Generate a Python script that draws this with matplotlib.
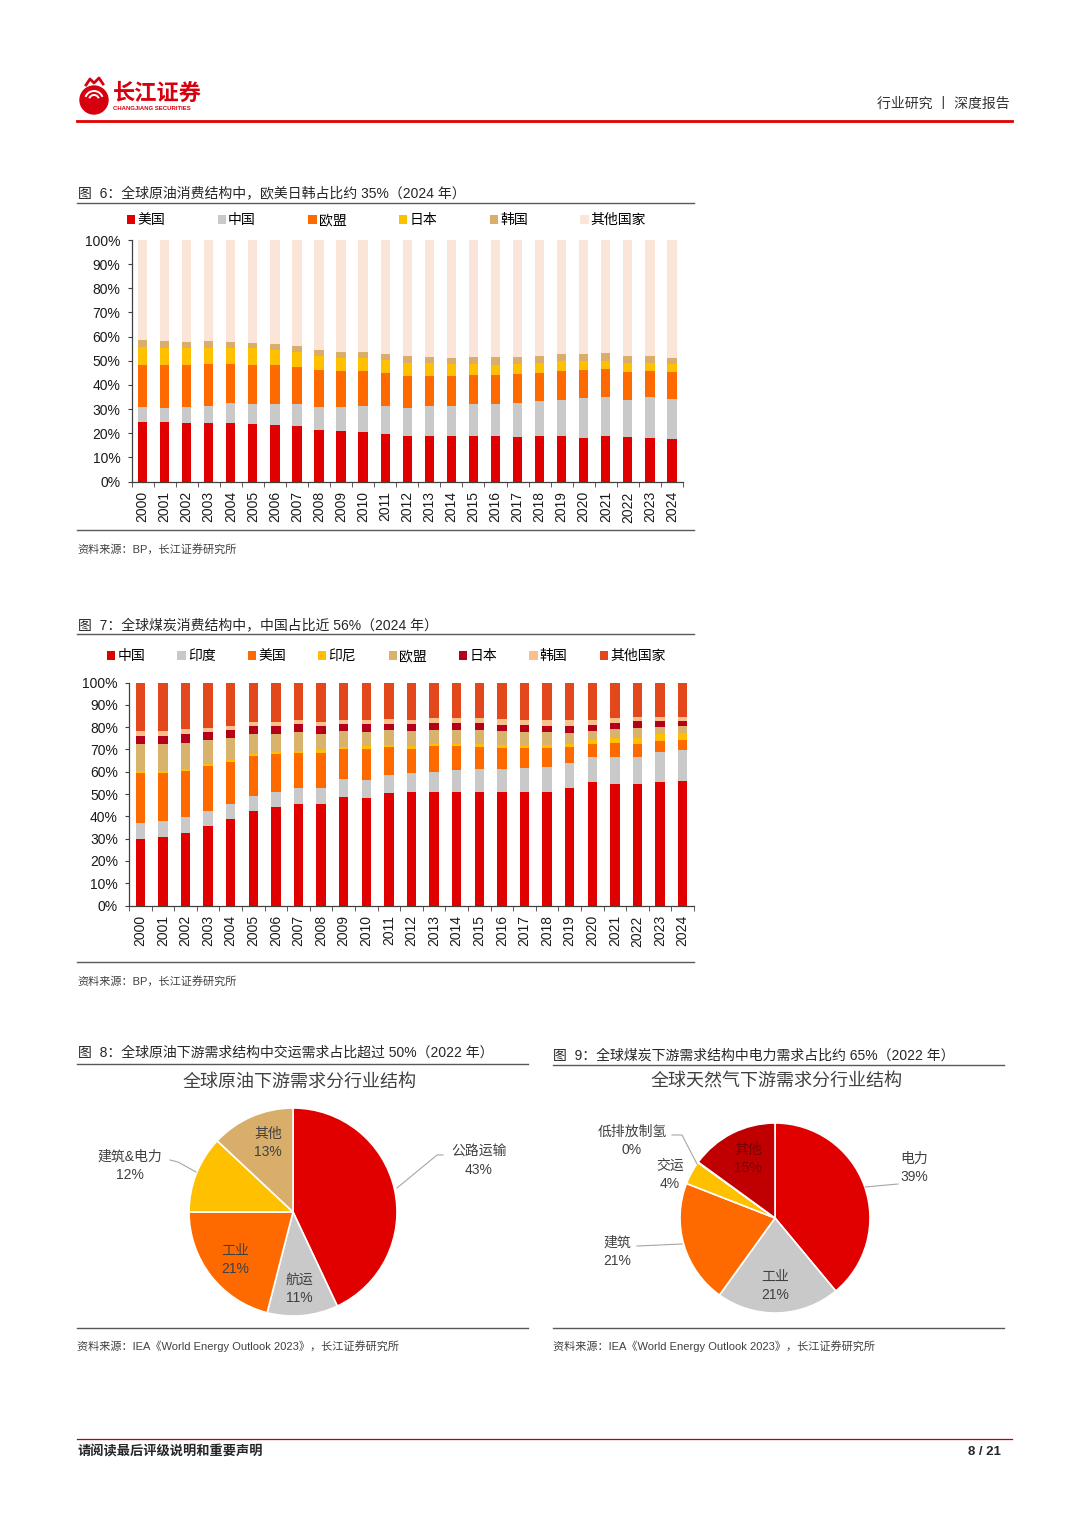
import numpy as np
import matplotlib
matplotlib.use('Agg')
import matplotlib.pyplot as plt
from matplotlib.lines import Line2D
from matplotlib.patches import Circle, Arc

plt.rcParams['font.family'] = ['Liberation Sans', 'Noto Sans CJK SC', 'DejaVu Sans']
plt.rcParams['axes.unicode_minus'] = False

W, H = 1080, 1527

years = ['2000', '2001', '2002', '2003', '2004', '2005', '2006', '2007', '2008',
         '2009', '2010', '2011', '2012', '2013', '2014', '2015', '2016', '2017',
         '2018', '2019', '2020', '2021', '2022', '2023', '2024']

# ---- fig 6: oil consumption share (%)
oil_labels = ['美国', '中国', '欧盟', '日本', '韩国', '其他国家']
oil_us = [24.7, 24.6, 24.1, 24.1, 24.1, 23.7, 23.2, 22.8, 21.5, 20.8, 20.4, 19.8, 18.9,
          19.0, 19.0, 19.0, 18.8, 18.6, 18.9, 18.8, 18.1, 18.8, 18.3, 17.9, 17.8]
oil_cn = [6.1, 6.0, 6.8, 7.3, 8.2, 8.3, 8.9, 9.1, 9.3, 10.0, 11.0, 11.4, 11.7,
          12.2, 12.4, 13.1, 13.2, 13.7, 14.3, 14.9, 16.5, 16.1, 15.6, 17.0, 16.4]
oil_eu = [17.3, 17.5, 17.2, 17.2, 16.5, 16.1, 16.0, 15.5, 15.4, 14.9, 14.3, 13.6, 13.0,
          12.4, 12.2, 12.2, 12.3, 12.3, 11.9, 12.1, 11.6, 11.6, 11.5, 10.9, 11.0]
oil_jp = [7.5, 7.3, 7.3, 6.8, 6.6, 7.1, 6.2, 6.3, 5.9, 5.5, 5.5, 5.4, 5.6,
          5.4, 5.1, 4.4, 4.1, 4.2, 4.1, 3.9, 3.9, 3.6, 3.6, 3.4, 3.4]
oil_kr = [3.0, 2.7, 2.5, 2.9, 2.4, 2.2, 2.7, 2.4, 2.5, 2.3, 2.3, 2.5, 2.7,
          2.4, 2.5, 2.9, 3.0, 2.9, 2.8, 3.0, 2.9, 3.0, 2.9, 2.8, 2.6]
oil_other = [41.4, 41.9, 42.1, 41.7, 42.2, 42.6, 43.0, 43.9, 45.4, 46.5, 46.5, 47.3, 48.1,
             48.6, 48.8, 48.4, 48.6, 48.3, 48.0, 47.3, 47.0, 46.9, 48.1, 48.0, 48.8]
oil_colors = ['#E00000', '#C9C9C9', '#FF6A00', '#FFC000', '#D9AE6A', '#FBE5D9']

# ---- fig 7: coal consumption share (%)
coal_labels = ['中国', '印度', '美国', '印尼', '欧盟', '日本', '韩国', '其他国家']
coal_cn = [29.9, 30.9, 32.7, 35.7, 38.9, 42.6, 44.2, 45.7, 45.7, 48.7, 48.3, 50.4, 50.8,
           51.1, 50.7, 51.1, 50.7, 50.7, 51.0, 52.5, 55.2, 54.4, 54.4, 55.5, 55.9]
coal_in = [6.9, 7.1, 6.9, 6.8, 6.8, 6.6, 6.6, 6.9, 7.2, 8.0, 7.8, 7.9, 8.5,
           8.8, 10.0, 10.3, 10.7, 10.9, 11.2, 11.5, 11.2, 12.0, 12.3, 13.4, 13.8]
coal_us = [22.8, 21.5, 20.9, 20.0, 18.6, 17.9, 17.2, 15.9, 15.7, 13.7, 14.3, 12.6, 11.0,
           11.7, 10.9, 9.8, 9.3, 9.1, 8.5, 7.0, 6.1, 6.5, 5.6, 4.9, 4.6]
coal_id = [0.6, 0.6, 0.8, 0.9, 0.9, 0.8, 0.9, 1.0, 1.1, 0.9, 1.0, 1.0, 1.4,
           0.9, 1.0, 1.0, 1.2, 1.0, 1.2, 1.6, 1.6, 2.0, 2.6, 2.9, 3.0]
coal_eu = [12.0, 12.1, 11.5, 10.6, 9.7, 8.8, 8.1, 8.4, 7.3, 7.0, 6.6, 6.7, 6.6,
           6.3, 6.3, 6.4, 6.3, 6.3, 6.0, 4.8, 4.1, 4.2, 4.9, 3.4, 3.1]
coal_jp = [4.0, 4.0, 4.2, 3.7, 3.9, 3.6, 3.4, 3.4, 3.6, 2.9, 3.2, 2.9, 2.9,
           3.0, 3.0, 3.2, 2.8, 2.9, 2.8, 3.0, 2.8, 2.8, 2.9, 2.6, 2.4]
coal_kr = [2.0, 2.0, 2.1, 2.1, 1.9, 1.9, 2.1, 2.0, 1.9, 2.1, 2.2, 2.2, 2.2,
           2.2, 2.3, 2.4, 2.6, 2.5, 2.7, 2.6, 2.4, 2.1, 1.9, 1.9, 1.8]
coal_other = [21.8, 21.8, 20.9, 20.2, 19.3, 17.8, 17.5, 16.7, 17.5, 16.7, 16.6, 16.3, 16.6,
              16.0, 15.8, 15.8, 16.4, 16.6, 16.6, 17.0, 16.6, 16.0, 15.4, 15.4, 15.4]
coal_colors = ['#E00000', '#C9C9C9', '#FF6A00', '#FFC000', '#D9B36B', '#B5001C', '#F8C18C', '#E2481C']

# ---- fig 8 / fig 9: pies
oil_use_labels = ['公路运输', '航运', '工业', '建筑&电力', '其他']
oil_use_vals = [43, 11, 21, 12, 13]
oil_use_colors = ['#E00000', '#C9C9C9', '#FF6A00', '#FFC000', '#D9AE6A']

gas_use_labels = ['电力', '工业', '建筑', '交运', '低排放制氢', '其他']
gas_use_vals = [39, 21, 21, 4, 0.1, 15]
gas_use_colors = ['#E00000', '#C9C9C9', '#FF6A00', '#FFC000', '#FFC000', '#C00000']

fig = plt.figure(figsize=(10.8, 15.27), dpi=100)


def fx(x):
    return x / W


def fy(y):
    return 1 - y / H


def box(x0, y0, x1, y1):
    return [x0 / W, 1 - y1 / H, (x1 - x0) / W, (y1 - y0) / H]


def hline(x0, x1, y, color='#595959', lw=1.0):
    fig.add_artist(Line2D([fx(x0), fx(x1)], [fy(y), fy(y)], color=color, lw=lw,
                          transform=fig.transFigure))


def txt(x, y, s, **kw):
    kw.setdefault('va', 'center')
    fig.text(fx(x), fy(y), s, **kw)


# header
logo = fig.add_axes(box(76, 76, 114, 116))
logo.set_xlim(0, 38)
logo.set_ylim(40, 0)
logo.axis('off')
logo.add_patch(Circle((18, 24), 14, color='#D7000F'))
for rr in (5, 9):
    logo.add_patch(Arc((18, 24), 2 * rr, 2 * rr, theta1=200, theta2=340, color='white', lw=1.4))
logo.plot([10, 14, 18, 23, 27], [9, 3, 7, 2, 8], color='#D7000F', lw=2)
txt(113, 94, '长江证券', fontsize=16, fontweight='bold', color='#D7000F')
txt(113, 109, 'CHANGJIANG SECURITIES', fontsize=4.3, fontweight='bold', color='#D7000F')
txt(1010, 104, '行业研究 丨 深度报告', fontsize=10, color='#333333', ha='right')
hline(77, 1012, 121, color='#E00000', lw=2.0)

# footer
hline(77, 1012, 1439, color='#C00000', lw=0.9)
txt(77, 1452, '请阅读最后评级说明和重要声明', fontsize=9.5, fontweight='bold', color='#262626')
txt(1001, 1452, '8 / 21', fontsize=9.5, fontweight='bold', color='#262626', ha='right')


def stacked(ax, series, labels, colors, width):
    x = np.arange(len(years))
    bottom = np.zeros(len(years))
    for vals, lab, col in zip(series, labels, colors):
        ax.bar(x, vals, width, bottom=bottom, color=col, label=lab)
        bottom += np.array(vals)
    ax.set_xlim(-0.5, len(years) - 0.5)
    ax.set_ylim(0, 100)
    ax.set_yticks(range(0, 101, 10))
    ax.set_yticklabels([f'{v}%' for v in range(0, 101, 10)])
    ax.set_xticks(x)
    ax.set_xticklabels(years, rotation=90)
    ax.set_xticks(np.arange(-0.5, len(years)), minor=True)
    ax.tick_params(axis='x', which='major', length=0, pad=7, labelsize=10, colors='#1a1a1a')
    ax.tick_params(axis='x', which='minor', length=3.5, direction='out', color='#404040')
    ax.tick_params(axis='y', length=3, direction='out', pad=5, labelsize=10,
                   colors='#1a1a1a')
    ax.tick_params(axis='y', color='#404040')
    for s in ('top', 'right'):
        ax.spines[s].set_visible(False)
    for s in ('left', 'bottom'):
        ax.spines[s].set_color('#404040')
        ax.spines[s].set_linewidth(0.9)


# ---- fig 6
txt(78, 193, '图  6：全球原油消费结构中，欧美日韩占比约 35%（2024 年）', fontsize=10, color='#262626')
hline(77, 694, 203, lw=1.0)
ax6 = fig.add_axes(box(131.5, 240, 683, 481.5))
stacked(ax6, [oil_us, oil_cn, oil_eu, oil_jp, oil_kr, oil_other], oil_labels, oil_colors, 0.42)
ax6.legend(loc='center left', bbox_to_anchor=(fx(127), fy(220)), bbox_transform=fig.transFigure,
           ncol=6, frameon=False, fontsize=10, handlelength=0.6, handleheight=0.6,
           handletextpad=0.15, columnspacing=3.78, borderpad=0, borderaxespad=0)
hline(77, 694, 530, lw=1.0)
txt(77, 549, '资料来源：BP，长江证券研究所', fontsize=8, color='#404040')

# ---- fig 7
txt(78, 625, '图  7：全球煤炭消费结构中，中国占比近 56%（2024 年）', fontsize=10, color='#262626')
hline(77, 694, 634, lw=1.0)
ax7 = fig.add_axes(box(129, 682.5, 694, 905.5))
stacked(ax7, [coal_cn, coal_in, coal_us, coal_id, coal_eu, coal_jp, coal_kr, coal_other],
        coal_labels, coal_colors, 0.42)
ax7.legend(loc='center left', bbox_to_anchor=(fx(107), fy(656)), bbox_transform=fig.transFigure,
           ncol=8, frameon=False, fontsize=10, handlelength=0.6, handleheight=0.6,
           handletextpad=0.15, columnspacing=2.32, borderpad=0, borderaxespad=0)
hline(77, 694, 962, lw=1.0)
txt(77, 981, '资料来源：BP，长江证券研究所', fontsize=8, color='#404040')


def pie_axes(cx, cy, r, S):
    ax = fig.add_axes(box(cx - S, cy - S, cx + S, cy + S))
    return ax


def pie_text(ax, r, dx, dy, s, **kw):
    kw.setdefault('ha', 'center')
    kw.setdefault('va', 'center')
    kw.setdefault('fontsize', 10)
    kw.setdefault('color', '#404040')
    kw.setdefault('linespacing', 1.45)
    ax.text(dx / r, -dy / r, s, clip_on=False, **kw)


def leader(ax, r, pts):
    ax.plot([p[0] / r for p in pts], [-p[1] / r for p in pts], color='#A6A6A6', lw=0.8,
            clip_on=False)


# ---- fig 8
txt(78, 1053, '图  8：全球原油下游需求结构中交运需求占比超过 50%（2022 年）', fontsize=10, color='#262626')
hline(77, 528, 1064, lw=1.0)
txt(300, 1082, '全球原油下游需求分行业结构', fontsize=13, color='#404040', ha='center')
cx8, cy8, r8, S8 = 293, 1212, 104, 200
ax8 = pie_axes(cx8, cy8, r8, S8)
ax8.pie(oil_use_vals, colors=oil_use_colors, startangle=90, counterclock=False,
        wedgeprops=dict(edgecolor='white', linewidth=1.2))
ax8.set_xlim(-S8 / r8, S8 / r8)
ax8.set_ylim(-S8 / r8, S8 / r8)
ax8.set_aspect('equal')
pie_text(ax8, r8, 186, -51, f'{oil_use_labels[0]}\n{oil_use_vals[0]}%')
pie_text(ax8, r8, 6, 77, f'{oil_use_labels[1]}\n{oil_use_vals[1]}%')
pie_text(ax8, r8, -58, 48, f'{oil_use_labels[2]}\n{oil_use_vals[2]}%')
pie_text(ax8, r8, -163, -46, f'{oil_use_labels[3]}\n{oil_use_vals[3]}%')
pie_text(ax8, r8, -25, -69, f'{oil_use_labels[4]}\n{oil_use_vals[4]}%')
leader(ax8, r8, [(-123, -52), (-115, -50), (-97, -40)])
leader(ax8, r8, [(150, -57), (144, -57), (104, -24)])
hline(77, 528, 1328, lw=1.0)
txt(77, 1346, '资料来源：IEA《World Energy Outlook 2023》，长江证券研究所', fontsize=8, color='#404040')

# ---- fig 9
txt(553, 1056, '图  9：全球煤炭下游需求结构中电力需求占比约 65%（2022 年）', fontsize=10, color='#262626')
hline(553, 1004, 1065, lw=1.0)
txt(777, 1082, '全球天然气下游需求分行业结构', fontsize=13, color='#404040', ha='center')
cx9, cy9, r9, S9 = 775, 1218, 95, 200
ax9 = pie_axes(cx9, cy9, r9, S9)
ax9.pie(gas_use_vals, colors=gas_use_colors, startangle=90, counterclock=False,
        wedgeprops=dict(edgecolor='white', linewidth=1.2))
ax9.set_xlim(-S9 / r9, S9 / r9)
ax9.set_ylim(-S9 / r9, S9 / r9)
ax9.set_aspect('equal')
pie_text(ax9, r9, 139, -50, f'{gas_use_labels[0]}\n{gas_use_vals[0]}%')
pie_text(ax9, r9, 0, 68, f'{gas_use_labels[1]}\n{gas_use_vals[1]}%')
pie_text(ax9, r9, -158, 34, f'{gas_use_labels[2]}\n{gas_use_vals[2]}%')
pie_text(ax9, r9, -105, -43, f'{gas_use_labels[3]}\n{gas_use_vals[3]}%')
pie_text(ax9, r9, -143, -77, f'{gas_use_labels[4]}\n{gas_use_vals[4]:.0f}%')
pie_text(ax9, r9, -27, -59, f'{gas_use_labels[5]}\n{gas_use_vals[5]}%', color='#7A0000')
leader(ax9, r9, [(123, -34), (90, -31)])
leader(ax9, r9, [(-138, 28), (-93, 26)])
leader(ax9, r9, [(-103, -83), (-93, -83), (-78, -54)])
hline(553, 1004, 1328, lw=1.0)
txt(553, 1346, '资料来源：IEA《World Energy Outlook 2023》，长江证券研究所', fontsize=8, color='#404040')

fig.savefig('out.png', dpi=100)
